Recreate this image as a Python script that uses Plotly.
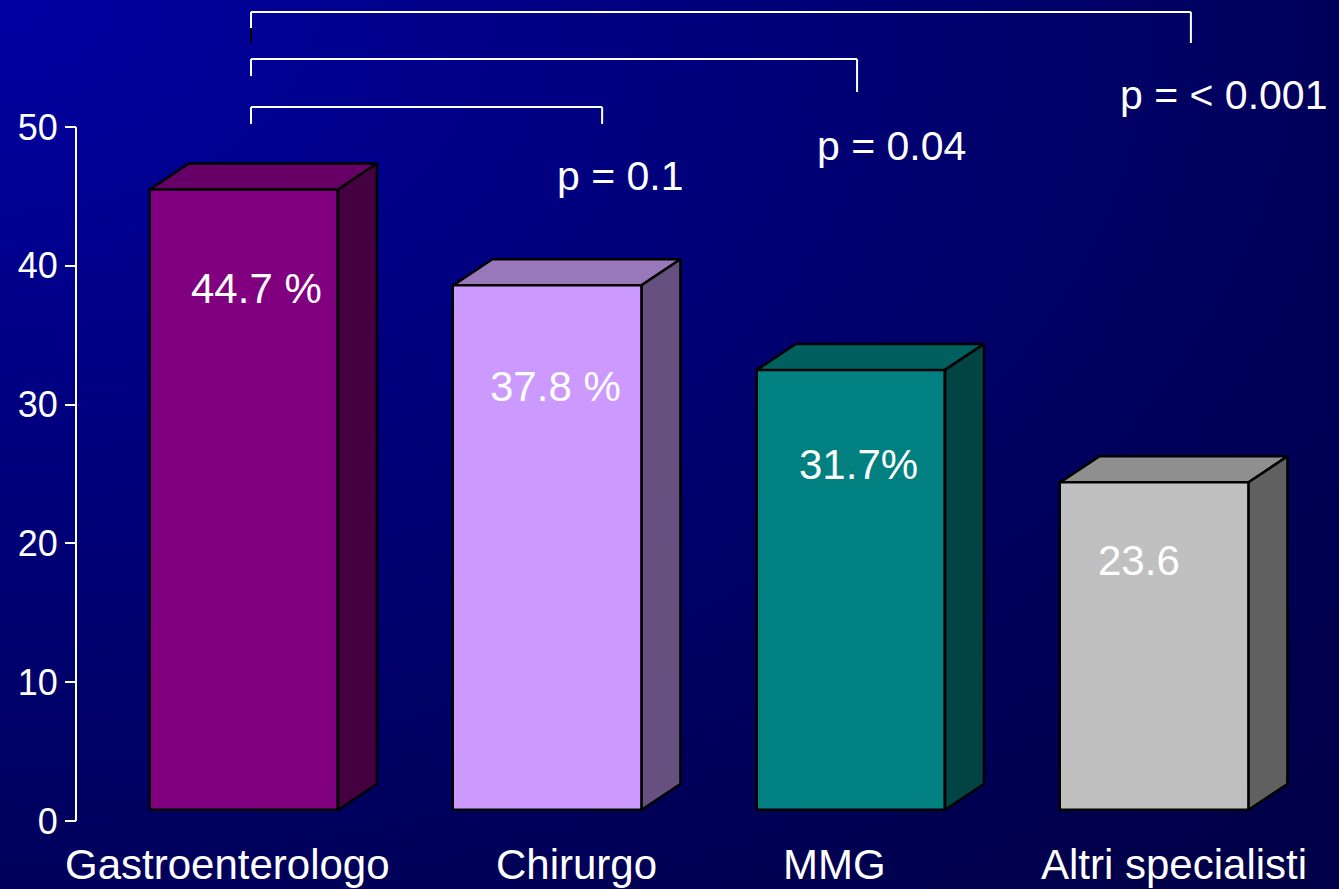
import base64
import plotly.graph_objects as go

# ---------------- data ----------------
categories = ["Gastroenterologo", "Chirurgo", "MMG", "Altri specialisti"]
values = [44.7, 37.8, 31.7, 23.6]
value_labels = ["44.7 %", "37.8 %", "31.7%", "23.6"]
p_labels = ["p = 0.1", "p = 0.04", "p = < 0.001"]
y_ticks = [0, 10, 20, 30, 40, 50]

# ---------------- style ----------------
front_colors = ["#800080", "#CC99FF", "#008080", "#C0C0C0"]
top_colors = ["#660066", "#9977BB", "#006060", "#8F8F8F"]
side_colors = ["#440040", "#66507F", "#004444", "#606060"]
FONT = "Liberation Sans, Arial, sans-serif"
W = 0.62      # bar width (x units)
DX = 0.128    # 3D depth in x units
DY = 1.87     # 3D depth in y units
BASE = 0.8    # floor offset of the 3D bars
label_dx = [0.04, 0.026, 0.026, -0.05]
label_dy = [6.3, 6.5, 6.05, 4.8]
cat_dx = [-0.056, 0.097, -0.053, 0.064]
# brackets: (left x, right x, top y, left-bottom y, right-bottom y)
brackets = [(0.023, 1.18, 51.44, 50.22, 50.22),
            (0.023, 2.02, 54.9, 53.67, 52.52),
            (0.023, 3.12, 58.29, 56.05, 56.05)]
p_pos = [(1.242, 46.5), (2.135, 48.6), (3.229, 52.3)]

xs = list(range(len(categories)))

fig = go.Figure()

# front faces
fig.add_trace(go.Bar(
    x=xs, y=values, base=BASE, width=W,
    marker=dict(color=front_colors, line=dict(color="black", width=2.5)),
    hoverinfo="skip", showlegend=False))

# top and side faces
for i, v in enumerate(values):
    xl, xr = xs[i] - W / 2, xs[i] + W / 2
    yt = v + BASE
    fig.add_trace(go.Scatter(
        x=[xl, xr, xr + DX, xl + DX, xl], y=[yt, yt, yt + DY, yt + DY, yt],
        fill="toself", fillcolor=top_colors[i], mode="lines",
        line=dict(color="black", width=2.5), hoverinfo="skip", showlegend=False))
    fig.add_trace(go.Scatter(
        x=[xr, xr + DX, xr + DX, xr, xr], y=[BASE, BASE + DY, yt + DY, yt, BASE],
        fill="toself", fillcolor=side_colors[i], mode="lines",
        line=dict(color="black", width=2.5), hoverinfo="skip", showlegend=False))

shapes = []
# y axis line (0..50)
AX = 76 / 1339
shapes.append(dict(type="line", xref="paper", yref="y", x0=AX, x1=AX,
                   y0=y_ticks[0], y1=y_ticks[-1], line=dict(color="white", width=2)))

# significance brackets
for (xl, xr, yt, ylb, yrb) in brackets:
    for seg in [(xl, yt, xr, yt), (xl, yt, xl, ylb), (xr, yt, xr, yrb)]:
        shapes.append(dict(type="line", xref="x", yref="y",
                           x0=seg[0], y0=seg[1], x1=seg[2], y1=seg[3],
                           line=dict(color="white", width=2)))
# small dark piece on the top bracket's left leg
shapes.append(dict(type="line", xref="x", yref="y", x0=0.023, x1=0.023,
                   y0=57.13, y1=56.05, line=dict(color="black", width=2)))

annotations = []
for i, lab in enumerate(value_labels):
    annotations.append(dict(x=xs[i] + label_dx[i], y=values[i] - label_dy[i],
                            xref="x", yref="y", text=lab, showarrow=False,
                            xanchor="center", yanchor="middle",
                            font=dict(family=FONT, size=42, color="white")))
for i, lab in enumerate(p_labels):
    annotations.append(dict(x=p_pos[i][0], y=p_pos[i][1], xref="x", yref="y",
                            text=lab, showarrow=False, xanchor="center", yanchor="middle",
                            font=dict(family=FONT, size=41, color="white")))
for i, cat in enumerate(categories):
    annotations.append(dict(x=xs[i] + cat_dx[i], y=0.027, xref="x", yref="paper",
                            text=cat, showarrow=False, xanchor="center", yanchor="middle",
                            font=dict(family=FONT, size=42, color="white")))

# gradient background (SVG)
svg = (
    '<svg xmlns="http://www.w3.org/2000/svg" width="1339" height="889" '
    'preserveAspectRatio="none" viewBox="0 0 1339 889">'
    '<defs><radialGradient id="g" cx="0" cy="0" r="1.35" fx="0" fy="0">'
    '<stop offset="0" stop-color="#0000A2"/>'
    '<stop offset="0.45" stop-color="#000076"/>'
    '<stop offset="0.75" stop-color="#00005A"/>'
    '<stop offset="1" stop-color="#000048"/>'
    '</radialGradient></defs>'
    '<rect width="1339" height="889" fill="url(#g)"/></svg>'
)
bg_src = "data:image/svg+xml;base64," + base64.b64encode(svg.encode()).decode()

fig.update_layout(
    width=1339, height=889,
    margin=dict(l=0, r=0, t=0, b=0),
    paper_bgcolor="#000060",
    plot_bgcolor="rgba(0,0,0,0)",
    showlegend=False,
    hovermode=False,
    bargap=0,
    shapes=shapes,
    annotations=annotations,
    images=[dict(source=bg_src, xref="paper", yref="paper", x=0, y=1,
                 sizex=1, sizey=1, sizing="stretch", layer="below",
                 xanchor="left", yanchor="top")],
    xaxis=dict(range=[-0.804, 3.608], domain=[0, 1], visible=False, fixedrange=True),
    yaxis=dict(range=[-4.9, 59.15], domain=[0, 1], anchor="free", position=AX,
               tickvals=y_ticks, ticktext=[str(t) for t in y_ticks],
               ticks="outside", ticklen=11, tickwidth=2, tickcolor="white",
               showline=False, showgrid=False, zeroline=False,
               tickfont=dict(family=FONT, size=36, color="white"),
               fixedrange=True),
)

fig.write_html("out.html", config={"displayModeBar": False})
